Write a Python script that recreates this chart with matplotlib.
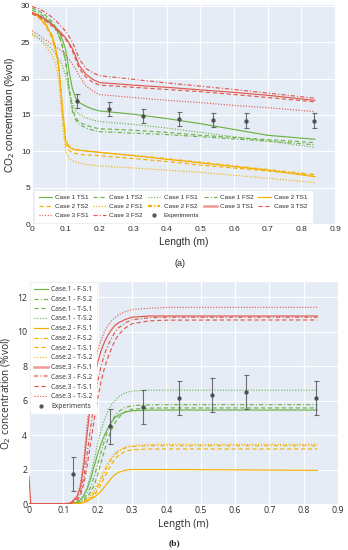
import numpy as np
import matplotlib.pyplot as plt

plt.rcParams['lines.scale_dashes'] = False

GREEN = '#6CB446'
ORANGE = '#F6B100'
RED = '#E2574C'
EXP = '#444444'
BG = '#E5ECF6'
TXT = '#2b2b2b'

# ---- (a) CO2 concentration ----
co2_x = [0, 0.02, 0.04, 0.06, 0.07, 0.08, 0.09, 0.10, 0.11, 0.12, 0.13,
         0.14, 0.16, 0.18, 0.2, 0.3, 0.4, 0.5, 0.6, 0.7, 0.84]
co2_c1_ts1 = [29.0, 28.7, 28.2, 27.5, 27.0, 26.4, 25.4, 24.0, 21.0, 18.6, 17.3,
              16.7, 16.2, 15.8, 15.55, 15.1, 14.5, 13.8, 13.0, 12.2, 11.65]
co2_c1_ts2 = [29.7, 29.3, 28.7, 27.8, 27.1, 26.0, 24.6, 22.4, 18.8, 15.8, 14.6,
              14.0, 13.6, 13.3, 13.1, 12.9, 12.6, 12.2, 11.9, 11.6, 11.2]
co2_c1_fs1 = [26.2, 25.6, 24.9, 24.0, 23.4, 22.7, 21.8, 20.3, 18.3, 16.6, 15.6,
              15.1, 14.6, 14.3, 14.1, 13.7, 13.2, 12.6, 12.0, 11.4, 10.55]
co2_c1_fs2 = [29.4, 29.0, 28.4, 27.5, 26.8, 25.8, 24.4, 22.2, 18.5, 15.5, 14.3,
              13.7, 13.2, 12.9, 12.7, 12.5, 12.3, 12.0, 11.7, 11.4, 10.9]
co2_c2_ts1 = [29.0, 28.5, 27.5, 25.8, 24.2, 21.5, 16.0, 11.5, 10.6, 10.3, 10.2,
              10.15, 10.05, 9.95, 9.85, 9.4, 8.9, 8.4, 7.9, 7.4, 6.5]
co2_c2_ts2 = [29.0, 28.4, 27.3, 25.5, 23.8, 21.0, 15.5, 11.0, 10.1, 9.8, 9.7,
              9.6, 9.5, 9.45, 9.4, 9.0, 8.6, 8.1, 7.7, 7.3, 6.7]
co2_c2_fs1 = [26.0, 25.5, 24.5, 23.2, 22.0, 19.5, 14.0, 10.0, 9.0, 8.7, 8.55,
              8.4, 8.2, 8.1, 8.0, 7.7, 7.4, 7.1, 6.7, 6.3, 5.7]
co2_c2_fs2 = [29.1, 28.6, 27.6, 25.9, 24.3, 21.6, 16.2, 11.6, 10.7, 10.4, 10.25,
              10.15, 10.05, 9.95, 9.85, 9.45, 9.0, 8.5, 8.0, 7.5, 6.8]
co2_c3_ts1 = [29.1, 28.7, 28.1, 27.4, 27.0, 26.6, 26.1, 25.6, 24.9, 24.1, 23.0,
              21.8, 20.6, 19.9, 19.45, 19.1, 18.8, 18.45, 18.1, 17.7, 17.0]
co2_c3_ts2 = [28.9, 28.5, 27.9, 27.2, 26.8, 26.4, 25.9, 25.4, 24.7, 23.8, 22.6,
              21.4, 20.2, 19.5, 19.1, 18.8, 18.5, 18.2, 17.8, 17.4, 16.8]
co2_c3_fs1 = [26.6, 26.0, 25.3, 24.7, 24.4, 24.1, 23.7, 23.2, 22.6, 22.0, 21.3,
              20.4, 19.0, 18.3, 17.8, 17.4, 17.0, 16.7, 16.3, 16.0, 15.45]
co2_c3_fs2 = [29.9, 29.6, 29.1, 28.4, 28.0, 27.5, 27.0, 26.5, 25.8, 25.0, 23.9,
              22.7, 21.4, 20.8, 20.4, 19.9, 19.4, 18.95, 18.5, 18.0, 17.3]

co2_exp_x = [0.133, 0.228, 0.331, 0.435, 0.536, 0.634, 0.837]
co2_exp_y = [16.95, 15.8, 14.85, 14.45, 14.3, 14.2, 14.2]
co2_exp_err = [0.95, 1.0, 1.0, 1.0, 1.0, 1.0, 1.0]

# ---- (b) O2 concentration ----
o2_x = [0, 0.005, 0.1, 0.12, 0.14, 0.15, 0.16, 0.17, 0.18, 0.19, 0.2, 0.21,
        0.22, 0.23, 0.24, 0.25, 0.26, 0.28, 0.3, 0.35, 0.4, 0.6, 0.84]
o2_c1_fs1 = [0, 0, 0, 0.02, 0.1, 0.25, 0.5, 0.9, 1.5, 2.2, 2.9, 3.5, 4.0, 4.4,
             4.75, 5.0, 5.15, 5.33, 5.41, 5.45, 5.45, 5.45, 5.45]
o2_c1_fs2 = [0, 0, 0, 0.01, 0.05, 0.15, 0.3, 0.6, 1.0, 1.6, 2.3, 3.0, 3.7, 4.3,
             4.75, 5.1, 5.35, 5.6, 5.7, 5.75, 5.76, 5.76, 5.76]
o2_c1_ts1 = [0, 0, 0, 0.01, 0.03, 0.1, 0.2, 0.4, 0.7, 1.1, 1.7, 2.4, 3.1, 3.8,
             4.3, 4.7, 5.0, 5.35, 5.5, 5.56, 5.57, 5.57, 5.57]
o2_c1_ts2 = [0, 0, 0, 0.03, 0.1, 0.25, 0.5, 1.0, 1.7, 2.6, 3.5, 4.3, 4.9, 5.4,
             5.75, 6.0, 6.2, 6.45, 6.55, 6.6, 6.6, 6.6, 6.6]
o2_c2_fs1 = [0, 0, 0, 0, 0.02, 0.05, 0.1, 0.2, 0.3, 0.4, 0.55, 0.75, 1.0, 1.25,
             1.5, 1.7, 1.83, 1.96, 2.0, 2.0, 2.0, 1.98, 1.95]
o2_c2_fs2 = [0, 0, 0, 0, 0.02, 0.05, 0.1, 0.2, 0.4, 0.65, 1.0, 1.4, 1.85, 2.25,
             2.6, 2.85, 3.05, 3.25, 3.33, 3.38, 3.38, 3.38, 3.38]
o2_c2_ts1 = [0, 0, 0, 0, 0.01, 0.04, 0.08, 0.15, 0.3, 0.5, 0.8, 1.15, 1.55, 1.95,
             2.3, 2.6, 2.8, 3.05, 3.15, 3.19, 3.19, 3.19, 3.19]
o2_c2_ts2 = [0, 0, 0, 0, 0.03, 0.07, 0.15, 0.3, 0.5, 0.8, 1.15, 1.6, 2.0, 2.4,
             2.7, 2.95, 3.1, 3.3, 3.4, 3.45, 3.46, 3.46, 3.46]
o2_c3_fs1 = [1.6, 0.02, 0.02, 0.05, 0.4, 1.0, 2.3, 4.2, 6.0, 7.3, 8.2, 8.9, 9.4,
             9.8, 10.1, 10.35, 10.5, 10.7, 10.83, 10.9, 10.9, 10.9, 10.9]
o2_c3_fs2 = [0, 0, 0, 0.03, 0.3, 0.7, 1.6, 3.0, 4.5, 5.9, 7.1, 8.0, 8.7, 9.2,
             9.6, 9.95, 10.2, 10.5, 10.68, 10.8, 10.83, 10.83, 10.83]
o2_c3_ts1 = [0, 0, 0, 0.02, 0.2, 0.5, 1.2, 2.3, 3.6, 4.9, 6.1, 7.1, 7.9, 8.5,
             9.0, 9.45, 9.8, 10.2, 10.45, 10.62, 10.66, 10.67, 10.67]
o2_c3_ts2 = [0, 0, 0, 0.05, 0.5, 1.2, 2.7, 4.8, 6.6, 8.0, 8.9, 9.5, 10.0, 10.35,
             10.6, 10.8, 10.95, 11.15, 11.27, 11.35, 11.4, 11.4, 11.4]

o2_exp_x = [0.129, 0.235, 0.331, 0.436, 0.533, 0.632, 0.837]
o2_exp_y = [1.75, 4.5, 5.63, 6.15, 6.32, 6.5, 6.15]
o2_exp_err = [1.0, 1.0, 1.0, 1.0, 1.0, 1.0, 1.0]

x_ticks = [0, 0.1, 0.2, 0.3, 0.4, 0.5, 0.6, 0.7, 0.8, 0.9]
x_tick_labels = ['0', '0.1', '0.2', '0.3', '0.4', '0.5', '0.6', '0.7', '0.8', '0.9']

SOLID = '-'
DASH = (0, (3.0, 2.0))
DOT = (0, (0.8, 1.2))
DASHDOT = (0, (3.0, 1.5, 0.8, 1.5))

fig = plt.figure(figsize=(3.48, 5.5), dpi=100)


def style_axes(ax, family, tick_size):
    ax.set_facecolor(BG)
    for s in ax.spines.values():
        s.set_visible(False)
    ax.grid(True, color='white', linewidth=0.8)
    ax.set_axisbelow(True)
    ax.tick_params(length=0, pad=1.2, labelsize=tick_size, colors=TXT)
    ax.set_xticks(x_ticks)
    ax.set_xticklabels(x_tick_labels, family=family)
    for t in ax.get_yticklabels():
        t.set_family(family)


# ---------------- top panel ----------------
ax1 = fig.add_axes([0.092, 0.5927, 0.871, 0.398])
LW = 0.85
top_series = [
    (co2_c1_ts1, GREEN, SOLID, 'Case 1 TS1'),
    (co2_c1_ts2, GREEN, DASH, 'Case 1 TS2'),
    (co2_c1_fs1, GREEN, DOT, 'Case 1 FS1'),
    (co2_c1_fs2, GREEN, DASHDOT, 'Case 1 FS2'),
    (co2_c2_ts1, ORANGE, SOLID, 'Case 2 TS1'),
    (co2_c2_ts2, ORANGE, DASH, 'Case 2 TS2'),
    (co2_c2_fs1, ORANGE, DOT, 'Case 2 FS1'),
    (co2_c2_fs2, ORANGE, DASHDOT, 'Case 2 FS2'),
    (co2_c3_ts1, RED, SOLID, 'Case 3 TS1'),
    (co2_c3_ts2, RED, DASH, 'Case 3 TS2'),
    (co2_c3_fs1, RED, DOT, 'Case 3 FS1'),
    (co2_c3_fs2, RED, DASHDOT, 'Case 3 FS2'),
]
handles1 = []
for y, c, ls, lab in top_series:
    h, = ax1.plot(co2_x, y, color=c, linestyle=ls, linewidth=LW, label=lab)
    handles1.append(h)
ax1.errorbar(co2_exp_x, co2_exp_y, yerr=co2_exp_err, fmt='none', ecolor=EXP,
             elinewidth=0.8, capsize=1.8, capthick=0.8, alpha=0.75)
h, = ax1.plot(co2_exp_x, co2_exp_y, 'o', color=EXP, markersize=2.2, alpha=0.8,
              label='Experiments')
handles1.append(h)

ax1.set_xlim(0, 0.9)
ax1.set_ylim(0, 30.1)
ax1.set_yticks([0, 5, 10, 15, 20, 25, 30])
style_axes(ax1, 'Liberation Sans', 6)
ax1.set_xlabel('Length (m)', family='Liberation Sans', fontsize=7.3, color=TXT, labelpad=3)
ax1.set_ylabel('CO$_2$ concentration (%vol)', family='Liberation Sans', fontsize=7.3,
               color=TXT, labelpad=3)

# matplotlib fills legend columns first; this order gives the row layout of the reference
order = [0, 5, 10, 1, 6, 11, 2, 7, 12, 3, 8, 4, 9]
leg1 = ax1.legend([handles1[i] for i in order], [handles1[i].get_label() for i in order],
                  ncol=5, loc='lower left', bbox_to_anchor=(0.01, 0.009),
                  borderaxespad=0, prop={'family': 'Liberation Sans', 'size': 4.6},
                  frameon=True, fancybox=False, framealpha=1, edgecolor='white',
                  handlelength=2.0, handletextpad=0.5, columnspacing=0.75,
                  labelspacing=0.55, borderpad=0.6)
for t in leg1.get_texts():
    t.set_color(TXT)
# thicker pale keys, as in the reference
leg1.legend_handles[order.index(8)].set_linewidth(1.8)
leg1.legend_handles[order.index(8)].set_alpha(0.6)
leg1.legend_handles[order.index(7)].set_linewidth(1.6)

# ---------------- bottom panel ----------------
ax2 = fig.add_axes([0.0833, 0.0836, 0.888, 0.4036])
bottom_series = [
    (o2_c1_fs1, GREEN, SOLID, 'Case.1 - F-S.1'),
    (o2_c1_fs2, GREEN, DASHDOT, 'Case.1 - F-S.2'),
    (o2_c1_ts1, GREEN, DASH, 'Case.1 - T-S.1'),
    (o2_c1_ts2, GREEN, DOT, 'Case.1 - T-S.2'),
    (o2_c2_fs1, ORANGE, SOLID, 'Case.2 - F-S.1'),
    (o2_c2_fs2, ORANGE, DASHDOT, 'Case.2 - F-S.2'),
    (o2_c2_ts1, ORANGE, DASH, 'Case.2 - T-S.1'),
    (o2_c2_ts2, ORANGE, DOT, 'Case.2 - T-S.2'),
    (o2_c3_fs1, RED, SOLID, 'Case.3 - F-S.1'),
    (o2_c3_fs2, RED, DASHDOT, 'Case.3 - F-S.2'),
    (o2_c3_ts1, RED, DASH, 'Case.3 - T-S.1'),
    (o2_c3_ts2, RED, DOT, 'Case.3 - T-S.2'),
]
handles2 = []
for y, c, ls, lab in bottom_series:
    h, = ax2.plot(o2_x, y, color=c, linestyle=ls, linewidth=LW, label=lab)
    handles2.append(h)
ax2.errorbar(o2_exp_x, o2_exp_y, yerr=o2_exp_err, fmt='none', ecolor=EXP,
             elinewidth=0.8, capsize=1.8, capthick=0.8, alpha=0.75)
h, = ax2.plot(o2_exp_x, o2_exp_y, 'o', color=EXP, markersize=2.2, alpha=0.8,
              label='Experiments')
handles2.append(h)

ax2.set_xlim(0, 0.9)
ax2.set_ylim(0, 12.87)
ax2.set_yticks([0, 2, 4, 6, 8, 10, 12])
style_axes(ax2, 'Open Sans', 6.3)
ax2.set_xlabel('Length (m)', family='Open Sans', fontsize=7.3, color=TXT, labelpad=3)
ax2.set_ylabel('O$_2$ concentration (%vol)', family='Open Sans', fontsize=7.3,
               color=TXT, labelpad=3)

leg2 = ax2.legend(handles2, [h.get_label() for h in handles2], loc='upper left',
                  bbox_to_anchor=(0.006, 0.996), borderaxespad=0,
                  prop={'family': 'Open Sans', 'size': 4.9},
                  frameon=True, fancybox=False, framealpha=1, edgecolor='white',
                  handlelength=2.0, handletextpad=0.45, labelspacing=0.4, borderpad=0.5)
for t in leg2.get_texts():
    t.set_color(TXT)
leg2.legend_handles[8].set_linewidth(1.8)
leg2.legend_handles[8].set_alpha(0.6)
leg2.legend_handles[9].set_linewidth(1.6)
leg2.legend_handles[9].set_alpha(0.6)

fig.text(0.517, 1 - 263 / 550, '(a)', ha='center', va='center',
         family='Liberation Sans', fontsize=6.5, color='#222222')
fig.text(0.5, 1 - 543 / 550, '(b)', ha='center', va='center',
         family='Liberation Serif', fontweight='bold', fontsize=6.8, color='#222222')

fig.savefig('out.png', dpi=100)
